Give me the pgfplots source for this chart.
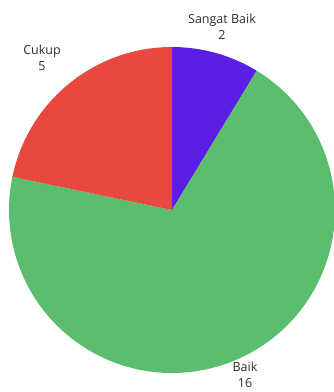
\documentclass[border=0pt]{standalone}
\usepackage{pgfplots}
\pgfplotsset{compat=1.18}
\usepackage{fontspec}
\setmainfont{Open Sans}
\definecolor{cPurple}{RGB}{90,30,230}
\definecolor{cGreen}{RGB}{90,190,110}
\definecolor{cRed}{RGB}{232,72,62}
\definecolor{cText}{RGB}{45,45,45}
% data: value, colour, label
\def\valA{2}\def\valB{16}\def\valC{5}
\begin{document}
\begin{tikzpicture}
\begin{axis}[
  width=334bp, height=392bp, scale only axis,
  xmin=0, xmax=334, ymin=0, ymax=392,
  axis lines=none, clip=false,
]
\pgfmathsetmacro{\tot}{\valA+\valB+\valC}
\pgfmathsetmacro{\aA}{90-360*\valA/\tot}
\pgfmathsetmacro{\aB}{\aA-360*\valB/\tot}
\pgfmathsetmacro{\aC}{\aB-360*\valC/\tot}
\def\R{163bp}
\fill[cPurple] (axis cs:172,182) -- +(90:\R) arc[start angle=90, end angle=\aA, radius=\R] -- cycle;
\fill[cGreen] (axis cs:172,182) -- +(\aA:\R) arc[start angle=\aA, end angle=\aB, radius=\R] -- cycle;
\fill[cRed] (axis cs:172,182) -- +(\aB:\R) arc[start angle=\aB, end angle=\aC, radius=\R] -- cycle;
\tikzset{lbl/.style={align=center, text=cText, inner sep=0pt, font=\fontsize{12.5bp}{16bp}\selectfont}}
\node[lbl] at (axis cs:222,365) {Sangat Baik\\\valA};
\node[lbl] at (axis cs:42,334) {Cukup\\\valC};
\node[lbl] at (axis cs:245,17) {Baik\\\valB};
\end{axis}
\pgfresetboundingbox
\path[use as bounding box] (current axis.south west) rectangle (current axis.north east);
\end{tikzpicture}
\end{document}
